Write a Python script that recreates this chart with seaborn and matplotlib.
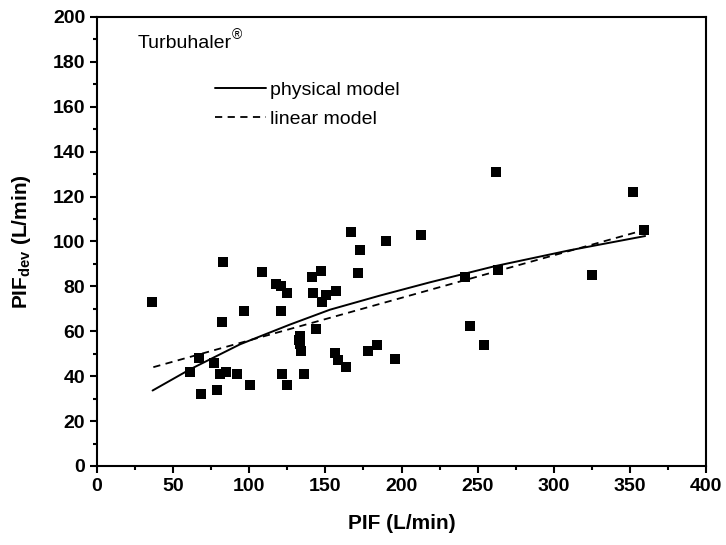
import matplotlib
matplotlib.use("Agg")
import matplotlib.pyplot as plt
import seaborn as sns
import pandas as pd
from matplotlib.ticker import MultipleLocator

pif = [36, 61, 67, 68, 77, 79, 81, 82, 83, 85, 92, 96.5, 100.7, 108.6, 117.4, 120.6,
       121, 121.5, 125, 125, 133.5, 132.7, 133.3, 134, 136, 141.5, 142, 144, 147, 148,
       150.4, 157, 156, 158.5, 163.5, 166.6, 171.4, 173, 178, 184, 190, 196, 212.6,
       242, 245, 254, 262, 263.6, 325, 352, 359]
pif_dev = [73, 42, 48, 32, 46, 34, 41, 64, 91, 42, 41, 69, 36, 86.5, 81, 80,
           69, 41, 77, 36, 58, 56, 54.5, 51, 41, 84, 77, 61, 87, 73,
           76, 78, 50.5, 47, 44, 104, 86, 96, 51, 54, 100, 47.5, 103,
           84, 62.5, 54, 131, 87.5, 85, 122, 105]

phys_x = [36.5, 61, 94, 126.8, 153, 185.9, 218.7, 261.4, 310.7, 360]
phys_y = [33.6, 43.0, 54.2, 63.0, 69.6, 75.9, 81.8, 89.0, 96.1, 102.4]

lin_x = [37, 359]
lin_y = [44, 105]

sns.set_style("ticks")
plt.rcParams['font.family'] = ['Liberation Sans', 'DejaVu Sans']
plt.rcParams['font.weight'] = 'bold'
plt.rcParams['mathtext.fontset'] = 'custom'
plt.rcParams['mathtext.rm'] = 'Liberation Sans'
plt.rcParams['mathtext.bf'] = 'Liberation Sans:bold'
for k in ['text.color', 'axes.labelcolor', 'xtick.color', 'ytick.color', 'axes.edgecolor']:
    plt.rcParams[k] = 'black'

fig = plt.figure(figsize=(7.26, 5.45), dpi=100)
ax = fig.add_axes([0.1336, 0.145, 0.9725 - 0.1336, 0.969 - 0.145])

df = pd.DataFrame({"PIF": pif, "PIFdev": pif_dev})
sns.scatterplot(data=df, x="PIF", y="PIFdev", marker="s", s=62, color="black",
                linewidth=0, ax=ax, zorder=3)
sns.lineplot(x=phys_x, y=phys_y, color="black", lw=1.4, ax=ax, label="physical model",
             sort=True, estimator=None)
ax.plot(lin_x, lin_y, color="black", lw=1.3, ls=(0, (4, 3)), label="linear model")

ax.set_xlim(0, 400)
ax.set_ylim(0, 200)
ax.xaxis.set_major_locator(MultipleLocator(50))
ax.xaxis.set_minor_locator(MultipleLocator(25))
ax.yaxis.set_major_locator(MultipleLocator(20))
ax.yaxis.set_minor_locator(MultipleLocator(10))
ax.tick_params(which="major", direction="out", length=5, width=1.5, labelsize=14,
               colors="black")
ax.tick_params(which="minor", direction="out", length=3, width=1.5, colors="black")
for s in ax.spines.values():
    s.set_linewidth(1.5)
    s.set_visible(True)
    s.set_color("black")

ax.set_xlabel("PIF (L/min)", fontsize=15, fontweight="bold", labelpad=14, color="black")
ax.set_ylabel(r"PIF$_{\mathbf{dev}}$ (L/min)", fontsize=15, fontweight="bold", labelpad=14,
              color="black")

t = ax.text(0.066, 0.94, "Turbuhaler", transform=ax.transAxes, fontsize=14,
            va="center", ha="left", fontweight="normal", color="black")
ax.annotate("®", xy=(1, 0.62), xycoords=t, xytext=(0.5, 0), textcoords="offset points",
            fontsize=10, fontweight="normal", va="bottom", ha="left", color="black")
leg = ax.legend(loc="upper left", bbox_to_anchor=(0.194, 0.857), frameon=False,
                prop={"size": 14, "weight": "normal"}, handlelength=2.6,
                handletextpad=0.2, labelspacing=0.6, borderaxespad=0, borderpad=0)
for txt in leg.get_texts():
    txt.set_color("black")

fig.savefig("out.png", dpi=100)
